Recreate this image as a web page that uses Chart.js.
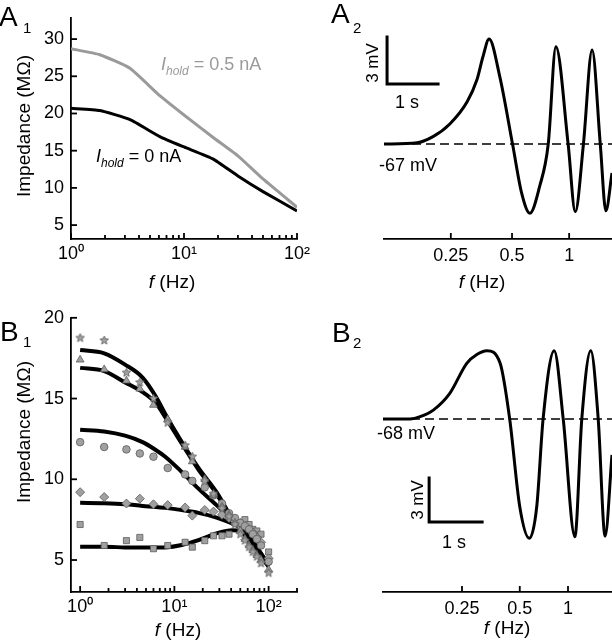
<!DOCTYPE html>
<html>
<head>
<meta charset="utf-8">
<script src="https://cdn.jsdelivr.net/npm/chart.js@4.4.1/dist/chart.umd.min.js"></script>
<style>
html, body { margin: 0; padding: 0; background: #fff; }
#fig { position: relative; width: 612px; height: 640px; overflow: hidden;
       font-family: "Liberation Sans", Arial, sans-serif; color: #000; }
#fig canvas { position: absolute; }
.t { position: absolute; line-height: 1; white-space: nowrap; font-size: 18px; }
.c { transform: translate(-50%, -50%); }
.r { transform: translate(-50%, -50%) rotate(-90deg); }
.t sub { font-size: 12px; font-style: italic; vertical-align: -5px; line-height: 0; }
.big { font-size: 28px; }
.sm { font-size: 15px; }
.grey { color: #9a9a9a; }
</style>
</head>
<body>
<div id="fig">
  <canvas id="a1" width="320" height="300" style="left:0;top:0"></canvas>
  <canvas id="a2" width="282" height="300" style="left:330px;top:0"></canvas>
  <canvas id="b1" width="320" height="340" style="left:0;top:300px"></canvas>
  <canvas id="b2" width="282" height="340" style="left:330px;top:300px"></canvas>

  <div class="t big" style="left:-1px;top:3px">A</div>
  <div class="t sm" style="left:23px;top:20px">1</div>
  <div class="t big" style="left:331px;top:0px">A</div>
  <div class="t sm" style="left:353px;top:20px">2</div>
  <div class="t big" style="left:0px;top:318px">B</div>
  <div class="t sm" style="left:23px;top:334px">1</div>
  <div class="t big" style="left:332px;top:319px">B</div>
  <div class="t sm" style="left:353px;top:335px">2</div>

  <div class="t r" style="left:23px;top:126px;font-size:19px">Impedance (MΩ)</div>
  <div class="t c" style="left:172px;top:281px;font-size:19px"><i>f</i> (Hz)</div>
  <div class="t grey" style="left:161px;top:55px"><i>I</i><sub>hold</sub> = 0.5 nA</div>
  <div class="t" style="left:96px;top:147px"><i>I</i><sub>hold</sub> = 0 nA</div>

  <div class="t r" style="left:372px;top:63px;font-size:17px">3 mV</div>
  <div class="t c" style="left:407px;top:102px">1 s</div>
  <div class="t c" style="left:408px;top:165px">-67 mV</div>
  <div class="t c" style="left:482px;top:281px;font-size:19px"><i>f</i> (Hz)</div>

  <div class="t r" style="left:23px;top:432px;font-size:19px">Impedance (MΩ)</div>
  <div class="t c" style="left:178px;top:629px;font-size:19px"><i>f</i> (Hz)</div>

  <div class="t c" style="left:406px;top:433px">-68 mV</div>
  <div class="t r" style="left:417px;top:500px;font-size:17px">3 mV</div>
  <div class="t c" style="left:454px;top:542px">1 s</div>
  <div class="t c" style="left:507px;top:627px;font-size:19px"><i>f</i> (Hz)</div>
</div>

<script>
// ---- A1: impedance vs frequency at two holding currents
const a1Freq = [1, 1.8, 3.3, 6.1, 10, 18, 30, 50, 100];
const a1Hold05 = [28.7, 27.9, 26.1, 22.4, 19.8, 16.8, 14.3, 11.2, 7.4];
const a1Hold0 = [20.7, 20.4, 19.2, 16.9, 15.5, 13.9, 11.6, 9.5, 6.9];
const a1YTicks = [5, 10, 15, 20, 25, 30];

// log axis ticks shared by A1 and B1
const logTicksA1 = [1, 2, 3, 4, 5, 6, 7, 8, 9, 10, 20, 30, 40, 50, 60, 70, 80, 90, 100];
const logTicksB1 = logTicksA1.concat([200]);
const decadeLabels = { 1: '10⁰', 10: '10¹', 100: '10²' };

// ---- A2: ZAP response at -67 mV (time in s, voltage in mV)
const a2Time = [0, 0.65, 0.96, 1.29, 1.63, 1.82, 1.94, 2.06, 2.27, 2.52, 2.70, 2.86,
                3.05, 3.22, 3.37, 3.61, 3.75, 3.91, 4.08, 4.24, 4.35, 4.47];
const a2Volt = [-67, -66.92, -66.53, -65.72, -64.30, -62.92, -61.43, -60.30, -62.70, -67, -70.15, -71.42,
                -69.72, -67, -60.79, -67, -71.32, -67, -61.0, -67, -71.26, -68.85];
const a2Rest = -67;
const a2Bar = [[0.06, -60.17], [0.06, -63.17], [1.06, -63.17]];   // 3 mV / 1 s
const a2TickTimes = [1.31, 2.51, 3.63];

// ---- B1: impedance of five cells, data points and fits
const ptFreq = [1, 1.8, 3.1, 4.3, 6, 8.5, 13, 15.5, 21, 26, 32, 38, 44, 50, 56, 62, 68, 75, 83, 100];
const stars = [18.75, 18.6, 16.6, 16.0, 15.0, 13.5, 12.1, 11.4, 9.9, 9.1, 8.2, 7.7, 7.2, 6.6, 6.2, 5.8, 5.5, 5.2, 4.8, 4.2];
const tris = [17.4, 16.8, 16.1, 15.6, 14.6, 13.7, 12.0, 11.1, 10.0, 9.0, 8.3, 7.8, 7.3, 6.8, 6.3, 5.9, 5.6, 5.3, 5.0, 4.4];
const circles = [12.3, 12.0, 11.85, 11.6, 11.4, 10.7, 10.3, 9.9, 9.5, 9.0, 8.5, 7.9, 7.6, 7.3, 7.1, 6.9, 6.6, 6.3, 5.9, 4.9];
const diamonds = [9.2, 8.9, 8.5, 8.8, 8.45, 8.4, 8.25, 7.75, 8.1, 8.0, 7.8, 7.6, 7.4, 7.3, 7.1, 6.9, 6.7, 6.4, 6.1, 5.1];
const squares = [7.2, 5.9, 6.2, 6.4, 5.7, 5.9, 6.1, 5.8, 6.2, 6.5, 6.5, 6.6, 7.3, 7.1, 7.5, 7.2, 6.9, 6.8, 6.6, 5.5];

const fitFreq = [1, 1.8, 3, 4.6, 6.4, 8, 12, 18, 28, 41, 52, 62, 100];
const fitA = [18.0, 17.8, 17.1, 16.3, 15.1, 14.05, 12.3, 10.7, 9.2, 7.6, 6.85, 6.2, 4.7];
const fitB = [16.9, 16.7, 16.0, 15.4, 14.7, 13.85, 12.2, 10.6, 9.1, 7.5, 6.8, 6.15, 4.6];
const fitC = [13.07, 12.96, 12.7, 12.3, 11.8, 11.4, 10.45, 9.42, 8.4, 7.47, 6.95, 6.34, 4.6];
const fitD = [8.54, 8.52, 8.46, 8.35, 8.29, 8.23, 8.09, 7.92, 7.63, 7.26, 6.95, 6.48, 4.7];
const fitE = [5.82, 5.82, 5.78, 5.77, 5.77, 5.78, 5.93, 6.23, 6.65, 6.85, 6.8, 6.4, 4.7];
const b1YTicks = [5, 10, 15, 20];

// ---- B2: ZAP response at -68 mV
const b2Time = [0, 0.51, 0.70, 0.95, 1.26, 1.58, 1.77, 1.96, 2.21, 2.39, 2.58, 2.76,
                2.90, 3.02, 3.23, 3.40, 3.62, 3.75, 3.92, 4.06, 4.19, 4.32];
const b2Volt = [-68, -68, -67.84, -67.39, -66.25, -64.20, -63.6, -63.34, -64.20, -68, -73.98, -76.13,
                -73.98, -68, -63.34, -68, -76.02, -68, -63.34, -68, -75.98, -70.45];
const b2Rest = -68;
const b2Bar = [[0.87, -72.02], [0.87, -75.02], [1.87, -75.02]];
const b2TickTimes = [1.49, 2.58, 3.49];

const zapTickLabels = ['0.25', '0.5', '1'];

Chart.defaults.font.family = '"Liberation Sans", Arial, sans-serif';
Chart.defaults.color = '#000';
Chart.defaults.animation = false;

const markerFill = '#a0a0a0';
const markerEdge = '#5a5a5a';

// ticks drawn inward from the axis line (major / minor length in px)
function inwardTicks(major, minor) {
  return {
    id: 'inwardTicks',
    afterDraw(chart) {
      const ctx = chart.ctx;
      ctx.save();
      ctx.strokeStyle = '#000';
      ctx.lineWidth = 1.8;
      Object.values(chart.scales).forEach(sc => {
        if (sc.options.display === false) return;
        sc.ticks.forEach(t => {
          const p = sc.getPixelForValue(t.value);
          const len = t.major ? major : minor;
          ctx.beginPath();
          if (sc.isHorizontal()) {
            ctx.moveTo(p, sc.top);
            ctx.lineTo(p, sc.top - len);
          } else {
            ctx.moveTo(sc.right, p);
            ctx.lineTo(sc.right + len, p);
          }
          ctx.stroke();
        });
      });
      ctx.restore();
    }
  };
}

function pts(xs, ys) {
  return xs.map((x, i) => ({ x: x, y: ys[i] }));
}

function starImage(r) {
  const c = document.createElement('canvas');
  const s = Math.ceil(r * 2 + 2);
  c.width = c.height = s;
  const g = c.getContext('2d');
  g.beginPath();
  for (let k = 0; k < 10; k++) {
    const rad = k % 2 ? r * 0.45 : r;
    const a = -Math.PI / 2 + k * Math.PI / 5;
    g.lineTo(s / 2 + rad * Math.cos(a), s / 2 + rad * Math.sin(a));
  }
  g.closePath();
  g.fillStyle = markerFill;
  g.fill();
  g.strokeStyle = markerEdge;
  g.lineWidth = 0.8;
  g.stroke();
  return c;
}

const axisBorder = { display: true, color: '#000', width: 1.8 };
const tickFont = { size: 18 };

function logAxis(min, max, tickList, height) {
  return {
    type: 'logarithmic', min: min, max: max,
    grid: { display: false, drawTicks: false },
    border: axisBorder,
    afterBuildTicks: s => { s.ticks = tickList.map(v => ({ value: v, major: v in decadeLabels })); },
    afterFit: s => { s.height = height; },
    ticks: { autoSkip: false, maxRotation: 0, padding: 4, font: tickFont,
             callback: v => decadeLabels[v] || '' }
  };
}

function linAxis(min, max, tickList, width) {
  return {
    type: 'linear', min: min, max: max,
    grid: { display: false, drawTicks: false },
    border: axisBorder,
    afterBuildTicks: s => { s.ticks = tickList.map(v => ({ value: v, major: true })); },
    afterFit: s => { s.width = width; },
    ticks: { padding: 7, font: tickFont }
  };
}

function zapAxis(max, tickTimes, height) {
  return {
    type: 'linear', min: 0, max: max,
    grid: { display: false, drawTicks: false },
    border: axisBorder,
    afterBuildTicks: s => { s.ticks = tickTimes.map(v => ({ value: v, major: true })); },
    afterFit: s => { s.height = height; },
    ticks: { autoSkip: false, maxRotation: 0, padding: 6, font: tickFont,
             callback: (v, i) => zapTickLabels[i] }
  };
}

const quiet = { legend: { display: false }, tooltip: { enabled: false } };

// A1
new Chart(document.getElementById('a1'), {
  type: 'line',
  data: {
    datasets: [
      { data: pts(a1Freq, a1Hold0), borderColor: '#000', borderWidth: 3, pointRadius: 0, tension: 0.15 },
      { data: pts(a1Freq, a1Hold05), borderColor: '#9a9a9a', borderWidth: 3, pointRadius: 0, tension: 0.15 }
    ]
  },
  options: {
    responsive: false,
    layout: { padding: { left: 0, top: 0, right: 23, bottom: 0 } },
    scales: {
      x: logAxis(1, 100, logTicksA1, 61),
      y: linAxis(3.13, 32.86, a1YTicks, 71)
    },
    plugins: quiet
  },
  plugins: [inwardTicks(6, 4)]
});

// A2
new Chart(document.getElementById('a2'), {
  type: 'line',
  data: {
    datasets: [
      { data: pts(a2Time, a2Volt), borderColor: '#000', borderWidth: 3, pointRadius: 0, cubicInterpolationMode: 'monotone' },
      { data: pts([a2Time[0], a2Time[a2Time.length - 1]], [a2Rest, a2Rest]), borderColor: '#000', borderWidth: 1.5, borderDash: [9, 5], pointRadius: 0 },
      { data: a2Bar.map(p => ({ x: p[0], y: p[1] })), borderColor: '#000', borderWidth: 3, pointRadius: 0, tension: 0, borderCapStyle: 'square' }
    ]
  },
  options: {
    responsive: false,
    layout: { padding: { left: 54, top: 0, right: 0, bottom: 0 } },
    scales: {
      x: zapAxis(a2Time[a2Time.length - 1], a2TickTimes, 61),
      y: { type: 'linear', display: false, min: -73.06, max: -57.81 }
    },
    plugins: quiet
  },
  plugins: [inwardTicks(6, 4)]
});

// B1
const starPt = starImage(4.5);
function markerSet(ys, style, r) {
  return { data: pts(ptFreq, ys), showLine: false, pointStyle: style, pointRadius: r,
           backgroundColor: markerFill, borderColor: markerEdge, pointBorderWidth: 0.8 };
}
function fitSet(ys) {
  return { data: pts(fitFreq, ys), borderColor: '#000', borderWidth: 4, pointRadius: 0, cubicInterpolationMode: 'monotone' };
}
new Chart(document.getElementById('b1'), {
  type: 'line',
  data: {
    datasets: [
      markerSet(stars, starPt, 4.5),
      markerSet(tris, 'triangle', 4.5),
      markerSet(circles, 'circle', 3.8),
      markerSet(diamonds, 'rectRot', 4.5),
      markerSet(squares, 'rect', 4.3),
      fitSet(fitA), fitSet(fitB), fitSet(fitC), fitSet(fitD), fitSet(fitE)
    ]
  },
  options: {
    responsive: false,
    layout: { padding: { left: 0, top: 17.6, right: 23, bottom: 0 } },
    scales: {
      x: logAxis(0.8, 200, logTicksB1, 48),
      y: linAxis(3.02, 20, b1YTicks, 71)
    },
    plugins: quiet
  },
  plugins: [inwardTicks(6, 4)]
});

// B2
new Chart(document.getElementById('b2'), {
  type: 'line',
  data: {
    datasets: [
      { data: pts(b2Time, b2Volt), borderColor: '#000', borderWidth: 3, pointRadius: 0, cubicInterpolationMode: 'monotone' },
      { data: pts([b2Time[0], b2Time[b2Time.length - 1]], [b2Rest, b2Rest]), borderColor: '#000', borderWidth: 1.5, borderDash: [9, 5], pointRadius: 0 },
      { data: b2Bar.map(p => ({ x: p[0], y: p[1] })), borderColor: '#000', borderWidth: 3, pointRadius: 0, tension: 0, borderCapStyle: 'square' }
    ]
  },
  options: {
    responsive: false,
    layout: { padding: { left: 53, top: 20, right: 0, bottom: 0 } },
    scales: {
      x: zapAxis(b2Time[b2Time.length - 1], b2TickTimes, 48),
      y: { type: 'linear', display: false, min: -79.79, max: -61.25 }
    },
    plugins: quiet
  },
  plugins: [inwardTicks(6, 4)]
});
</script>
</body>
</html>
